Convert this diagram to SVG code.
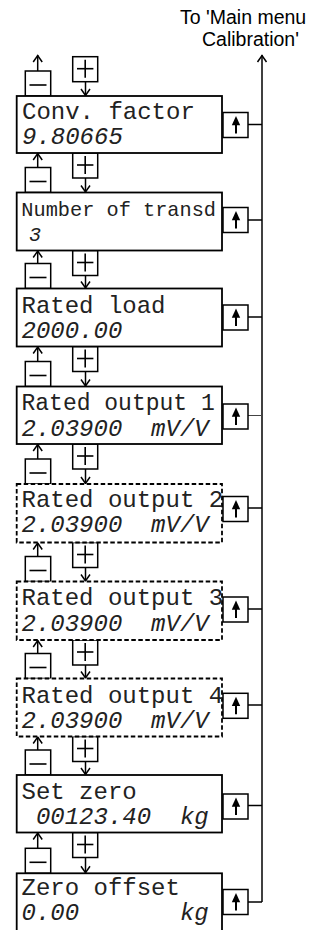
<svg xmlns="http://www.w3.org/2000/svg" width="329" height="930" viewBox="0 0 329 930">
<style>
.box{fill:#fff;stroke:#000;stroke-width:1.8}
.dash{stroke-dasharray:4.5 2.5}
.key{fill:#fff;stroke:#000;stroke-width:1.5}
.sym{stroke:#000;stroke-width:1.6;fill:none}
.ln{stroke:#000;stroke-width:1.5;fill:none}
.thin{stroke:#444;stroke-width:1;fill:none}
.t{font-family:"Liberation Mono","Courier New",monospace;font-size:24px;fill:#222}
.i{font-style:italic}
.lab{font-family:"Liberation Sans",Arial,sans-serif;font-size:19.5px;fill:#000}
</style>
<defs>
<marker id="ah" viewBox="-8 -6 10 12" refX="0.5" refY="0" markerWidth="10" markerHeight="12" markerUnits="userSpaceOnUse" orient="auto">
<path d="M-6.5,-4.5 L0,0 L-6.5,4.5" fill="none" stroke="#000" stroke-width="1.5"/>
</marker>
<g id="upbtn">
<rect class="key" x="0" y="0" width="25" height="25"/>
<polygon points="13,3.5 8.8,12.8 17.2,12.8" fill="#000"/>
<line x1="13" y1="12" x2="13" y2="21" stroke="#000" stroke-width="2"/>
</g>
<g id="minus">
<rect class="key" x="0" y="0" width="25.4" height="25"/>
<line class="sym" x1="4.2" y1="14" x2="21.2" y2="14"/>
</g>
<g id="plus">
<rect class="key" x="0" y="0" width="25" height="25"/>
<line class="sym" x1="4.3" y1="12" x2="20.7" y2="12"/>
<line class="sym" x1="12.5" y1="3" x2="12.5" y2="21"/>
</g>
</defs>

<g id="label-top">
<text class="lab" x="180" y="24">To 'Main menu</text>
<text class="lab" x="202" y="46">Calibration'</text>
</g>

<g id="connectors">
<line class="ln" x1="262" y1="902" x2="262" y2="55" marker-end="url(#ah)"/>
<line class="ln" x1="248" y1="124.5" x2="262" y2="124.5"/>
<line class="ln" x1="248" y1="220" x2="262" y2="220"/>
<line class="ln" x1="248" y1="317" x2="262" y2="317"/>
<line class="thin" x1="248" y1="415.5" x2="262" y2="415.5"/>
<line class="ln" x1="248" y1="508" x2="262" y2="508"/>
<line class="ln" x1="248" y1="609" x2="262" y2="609"/>
<line class="ln" x1="248" y1="705" x2="262" y2="705"/>
<line class="ln" x1="248" y1="805.5" x2="262" y2="805.5"/>
<line class="ln" x1="248" y1="902" x2="262" y2="902"/>
<line class="ln" x1="37.7" y1="71" x2="37.7" y2="55" marker-end="url(#ah)"/>
<line class="ln" x1="37.7" y1="167.5" x2="37.7" y2="153" marker-end="url(#ah)"/>
<line class="ln" x1="37.7" y1="263.5" x2="37.7" y2="250.5" marker-end="url(#ah)"/>
<line class="ln" x1="37.7" y1="361.5" x2="37.7" y2="346.5" marker-end="url(#ah)"/>
<line class="ln" x1="37.7" y1="459" x2="37.7" y2="444" marker-end="url(#ah)"/>
<line class="ln" x1="37.7" y1="556.5" x2="37.7" y2="542.5" marker-end="url(#ah)"/>
<line class="ln" x1="37.7" y1="653.5" x2="37.7" y2="640" marker-end="url(#ah)"/>
<line class="ln" x1="37.7" y1="750" x2="37.7" y2="736.5" marker-end="url(#ah)"/>
<line class="ln" x1="37.7" y1="848.3" x2="37.7" y2="832.5" marker-end="url(#ah)"/>
<line class="ln" x1="85.5" y1="81.7" x2="85.5" y2="96" marker-end="url(#ah)"/>
<line class="ln" x1="85.5" y1="178" x2="85.5" y2="192.5" marker-end="url(#ah)"/>
<line class="ln" x1="85.5" y1="275.5" x2="85.5" y2="288.5" marker-end="url(#ah)"/>
<line class="ln" x1="85.5" y1="371.5" x2="85.5" y2="386.5" marker-end="url(#ah)"/>
<line class="ln" x1="85.5" y1="469" x2="85.5" y2="484" marker-end="url(#ah)"/>
<line class="ln" x1="85.5" y1="567.5" x2="85.5" y2="581.5" marker-end="url(#ah)"/>
<line class="ln" x1="85.5" y1="665" x2="85.5" y2="678.5" marker-end="url(#ah)"/>
<line class="ln" x1="85.5" y1="761.5" x2="85.5" y2="775" marker-end="url(#ah)"/>
<line class="ln" x1="85.5" y1="857.5" x2="85.5" y2="873.3" marker-end="url(#ah)"/>
</g>

<g id="keys">
<use href="#minus" x="25.3" y="71"/>
<use href="#plus" x="72.7" y="56.7"/>
<use href="#minus" x="25.3" y="167.5"/>
<use href="#plus" x="72.7" y="153"/>
<use href="#minus" x="25.3" y="263.5"/>
<use href="#plus" x="72.7" y="250.5"/>
<use href="#minus" x="25.3" y="361.5"/>
<use href="#plus" x="72.7" y="346.5"/>
<use href="#minus" x="25.3" y="459"/>
<use href="#plus" x="72.7" y="444"/>
<use href="#minus" x="25.3" y="556.5"/>
<use href="#plus" x="72.7" y="542.5"/>
<use href="#minus" x="25.3" y="653.5"/>
<use href="#plus" x="72.7" y="640"/>
<use href="#minus" x="25.3" y="750"/>
<use href="#plus" x="72.7" y="736.5"/>
<use href="#minus" x="25.3" y="848.3"/>
<use href="#plus" x="72.7" y="832.5"/>
</g>

<g id="node-conv-factor">
<rect class="box" x="16.7" y="96" width="205.3" height="57"/>
<text class="t" x="22" y="119">Conv. factor</text>
<text class="t i" x="22" y="144">9.80665</text>
<use href="#upbtn" x="223" y="112.5"/>
</g>
<g id="node-number-of-transd">
<rect class="box" x="16.7" y="192.5" width="205.3" height="58"/>
<text class="t" x="21.3" y="215.7" style="font-size:20.3px">Number of transd</text>
<text class="t i" x="29" y="240.5" style="font-size:20px">3</text>
<use href="#upbtn" x="223" y="207.5"/>
</g>
<g id="node-rated-load">
<rect class="box" x="16.7" y="288.5" width="205.3" height="58"/>
<text class="t" x="21.5" y="313.3">Rated load</text>
<text class="t i" x="21.5" y="338.3">2000.00</text>
<use href="#upbtn" x="223" y="305"/>
</g>
<g id="node-rated-output-1">
<rect class="box" x="16.7" y="386.5" width="205.3" height="57.5"/>
<text class="t" x="21.5" y="410.3" style="font-size:23px">Rated output 1</text>
<text class="t i" x="21.5" y="435.5" xml:space="preserve">2.03900  mV/V</text>
<use href="#upbtn" x="223" y="404"/>
</g>
<g id="node-rated-output-2">
<rect class="box dash" x="16.7" y="484" width="205.3" height="58.5"/>
<text class="t" x="21.5" y="507.3">Rated output 2</text>
<text class="t i" x="21.5" y="532.3" xml:space="preserve">2.03900  mV/V</text>
<use href="#upbtn" x="223" y="496.5"/>
</g>
<g id="node-rated-output-3">
<rect class="box dash" x="16.7" y="581.5" width="205.3" height="58.5"/>
<text class="t" x="21.5" y="605">Rated output 3</text>
<text class="t i" x="21.5" y="631" xml:space="preserve">2.03900  mV/V</text>
<use href="#upbtn" x="223" y="597"/>
</g>
<g id="node-rated-output-4">
<rect class="box dash" x="16.7" y="678.5" width="205.3" height="58"/>
<text class="t" x="21.5" y="702.5">Rated output 4</text>
<text class="t i" x="21.5" y="728" xml:space="preserve">2.03900  mV/V</text>
<use href="#upbtn" x="223" y="693.3"/>
</g>
<g id="node-set-zero">
<rect class="box" x="16.7" y="775" width="205.3" height="57.5"/>
<text class="t" x="21.5" y="799.3">Set zero</text>
<text class="t i" x="21.5" y="824.3" xml:space="preserve"> 00123.40  kg</text>
<use href="#upbtn" x="223" y="794"/>
</g>
<g id="node-zero-offset">
<rect class="box" x="16.7" y="873.3" width="205.3" height="58"/>
<text class="t" x="21.5" y="895.2">Zero offset</text>
<text class="t i" x="21.5" y="920.2" xml:space="preserve">0.00       kg</text>
<use href="#upbtn" x="223" y="889.5"/>
</g>
</svg>
